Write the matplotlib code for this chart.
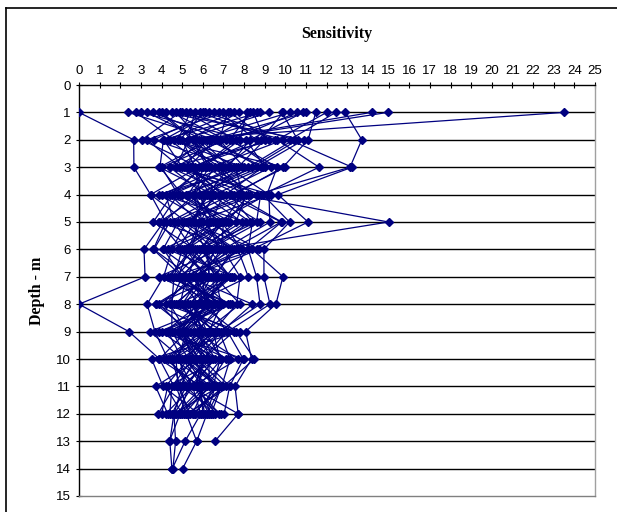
import matplotlib.pyplot as plt
from matplotlib.lines import Line2D

# sensitivity profiles, one value per metre starting at 1 m depth
profiles = [
    [0, 2.65, 2.66, 3.47, 4.2, 3.6, 5.0, 4.4, 5.2, 4.8, 5.5, 4.6, 4.4, 4.5],
    [23.5, 4.4, 6.1, 5.3, 6.8, 5.9, 4.7, 6.2, 5.0, 5.6, 4.9, 5.3],
    [14.96, 6.4, 8.9, 7.1, 9.8, 7.4, 6.6, 7.8, 6.1, 6.9, 5.8, 6.4],
    [14.18, 6.2, 5.1, 7.7, 15.0, 6.7, 5.5, 6.3, 7.15, 6.0, 7.3, 5.2, 5.7, 5.02],
    [12.9, 13.7, 13.13, 8.6, 7.0, 5.9, 7.3, 5.9, 4.9, 6.5, 5.6, 6.3],
    [12.44, 10.2, 13.23, 9.64, 11.1, 8.4, 9.88, 9.54, 8.07, 8.36, 7.56, 7.71, 6.59],
    [12.0, 9.6, 11.63, 8.9, 10.2, 8.96, 8.96, 9.25, 7.2, 7.96, 7.3, 7.03],
    [11.47, 11.1, 9.88, 7.5, 9.82, 8.2, 8.6, 8.77, 6.8, 7.32, 6.91, 6.2, 5.7],
    [10.85, 8.3, 7.2, 9.2, 9.25, 7.0, 7.8, 7.64, 6.5, 6.83, 6.5, 5.9, 5.14, 4.52],
    [10.56, 7.4, 9.3, 6.6, 8.77, 6.3, 7.32, 5.6, 6.2, 5.2, 6.1, 5.5],
    [10.2, 5.8, 6.9, 8.1, 7.6, 6.0, 6.59, 6.9, 5.7, 6.4, 5.0, 4.6, 4.68, 4.55],
    [9.82, 10.6, 8.4, 5.8, 6.5, 7.9, 5.6, 6.4, 4.6, 5.9, 5.7, 6.6],
    [8.77, 4.09, 3.92, 5.0, 7.1, 4.9, 6.2, 5.1, 5.9, 4.4, 5.3, 4.9, 4.38],
    [8.44, 9.0, 7.7, 6.3, 5.4, 7.5, 5.2, 4.9, 6.6, 5.5, 6.7, 5.6],
    [8.12, 7.8, 6.0, 4.4, 5.8, 5.3, 4.8, 5.8, 4.2, 6.8, 4.3, 4.0],
    [7.75, 5.3, 4.7, 8.3, 4.8, 4.07, 5.9, 3.73, 5.4, 4.7, 4.8, 5.4],
    [7.2, 6.8, 8.0, 3.9, 6.2, 6.8, 3.88, 6.7, 3.44, 5.0, 6.0, 4.7],
    [6.8, 8.6, 5.5, 6.9, 4.4, 3.63, 5.4, 4.2, 7.8, 3.52, 4.07, 5.8],
    [6.3, 3.63, 7.5, 4.5, 3.6, 5.6, 4.3, 7.3, 4.0, 5.8, 3.71, 4.3],
    [5.86, 9.5, 4.4, 7.3, 8.4, 8.2, 7.1, 6.0, 4.9, 6.1, 5.2, 4.5],
    [5.38, 4.8, 6.6, 5.6, 4.1, 3.15, 3.2, 0, 2.42, 3.9, 4.6, 3.84],
    [4.89, 3.04, 5.8, 3.47, 5.2, 4.5, 4.1, 3.3, 3.68, 4.3, 5.5, 4.2],
    [4.49, 7.1, 4.0, 4.8, 3.9, 5.0, 4.6, 4.5, 4.5, 5.3, 4.2, 5.0],
    [4.0, 5.6, 6.3, 5.5, 6.0, 7.3, 5.7, 3.9, 5.2, 3.9, 5.9, 6.0],
    [3.3, 6.0, 4.4, 6.1, 5.6, 4.8, 6.4, 5.7, 4.8, 6.3, 6.3, 5.1],
    [2.76, 4.6, 7.9, 4.2, 4.6, 6.4, 4.9, 6.9, 6.3, 4.5, 4.9, 6.9],
    [2.39, 6.6, 5.3, 7.0, 6.4, 5.1, 6.9, 5.3, 5.8, 6.6, 5.4, 7.71],
    [3.0, 8.1, 9.0, 6.0, 7.9, 5.7, 5.3, 8.4, 6.9, 5.7, 7.1, 5.3],
    [5.0, 9.9, 6.4, 8.6, 5.0, 6.6, 6.0, 6.1, 5.5, 7.1, 6.2, 4.8],
    [6.1, 10.4, 8.2, 5.2, 7.3, 4.3, 7.5, 4.8, 7.0, 4.9, 5.1],
    [7.0, 3.3, 4.9, 6.8, 5.3, 8.6, 4.5, 7.0, 3.9, 8.0],
    [7.5, 4.3, 10.0, 7.4, 4.6, 5.5, 6.7, 3.73, 6.4, 5.4, 6.6, 6.2],
    [8.3, 7.3, 9.6, 9.1, 6.7, 4.1, 5.0, 6.6, 4.4, 7.2],
    [9.2, 5.0, 5.6, 5.9, 3.9, 7.7, 8.2, 5.5, 6.0, 4.1],
    [9.9, 8.8, 7.0, 4.0, 8.1, 6.2, 6.3, 4.6, 7.5, 6.0, 5.8],
    [11.0, 6.4, 3.9, 6.5, 5.9, 5.4, 4.4, 7.4, 4.3, 5.0, 6.7, 5.6],
    [4.2, 10.9, 8.6, 4.9, 6.9, 7.9, 5.1, 6.3, 5.0, 5.5, 4.5, 4.4],
    [5.6, 5.3, 7.6, 7.9, 7.0, 6.9, 5.9, 5.0, 6.2, 4.2, 5.8, 6.1],
    [6.55, 4.1, 5.0, 8.8, 8.6, 5.8, 7.4, 5.9, 7.6, 8.5, 7.0, 5.5],
    [3.6, 6.9, 4.7, 9.3, 5.6, 7.6, 6.5, 6.5, 5.3, 6.2, 5.2, 6.5],
    [4.7, 5.9, 7.3, 6.2, 5.5, 6.1, 5.0, 6.8, 5.1, 6.1, 5.6, 6.8],
    [5.2, 7.6, 5.9, 4.6, 6.6, 5.2, 6.1, 4.7, 6.7, 4.6, 6.4, 4.9],
    [6.0, 4.9, 6.8, 7.8, 5.1, 7.1, 5.6, 7.2, 5.6, 7.7, 5.5, 5.9],
    [7.3, 9.2, 5.4, 6.4, 8.3, 6.3, 6.3, 5.4, 6.5, 5.1, 6.8, 4.6],
    [8.6, 6.3, 8.8, 5.6, 6.3, 8.7, 5.4, 6.8, 5.0, 5.8, 4.7, 5.2],
    [3.9, 5.5, 6.2, 8.2, 7.2, 5.2, 7.0, 5.6, 5.9, 5.4, 6.9, 6.4],
]

navy = '#000080'
serif = 'Liberation Serif'
sans = 'Liberation Sans'

fig = plt.figure(figsize=(6.17, 5.12), dpi=100)
ax = fig.add_axes([79/617, 1 - 496/512, (595-79)/617, (496-85)/512])

for p in profiles:
    depth = list(range(1, len(p) + 1))
    ax.plot(p, depth, color=navy, lw=0.9, marker='D', ms=4,
            mec=navy, mfc=navy, zorder=3)

ax.set_xlim(0, 25)
ax.set_ylim(15, 0)
ax.set_xticks(range(0, 26))
ax.set_yticks(range(0, 16))
ax.xaxis.tick_top()
ax.xaxis.set_label_position('top')
ax.tick_params(direction='inout', length=5, width=0.8, labelsize=9.5, colors='black')
for lab in ax.get_xticklabels() + ax.get_yticklabels():
    lab.set_fontfamily(sans)
ax.tick_params(axis='x', pad=3)

for d in range(1, 15):
    ax.axhline(d, color='black', lw=1, zorder=1)

ax.spines['top'].set_color('black')
ax.spines['left'].set_color('black')
ax.spines['right'].set_color('#a0a0a0')
ax.spines['bottom'].set_color('#808080')
for s in ax.spines.values():
    s.set_linewidth(1)

ax.set_xlabel('Sensitivity', fontfamily=serif, fontweight='bold', fontsize=11.5, labelpad=20)
ax.set_ylabel('Depth - m', fontfamily=serif, fontweight='bold', fontsize=11.5, labelpad=8)

# outer chart frame (left and top only)
fig.add_artist(Line2D([6/617, 6/617], [0, 1 - 8/512], color='black', lw=1.2, transform=fig.transFigure))
fig.add_artist(Line2D([6/617, 1], [1 - 8/512, 1 - 8/512], color='black', lw=1.2, transform=fig.transFigure))

fig.savefig('out.png', dpi=100)
